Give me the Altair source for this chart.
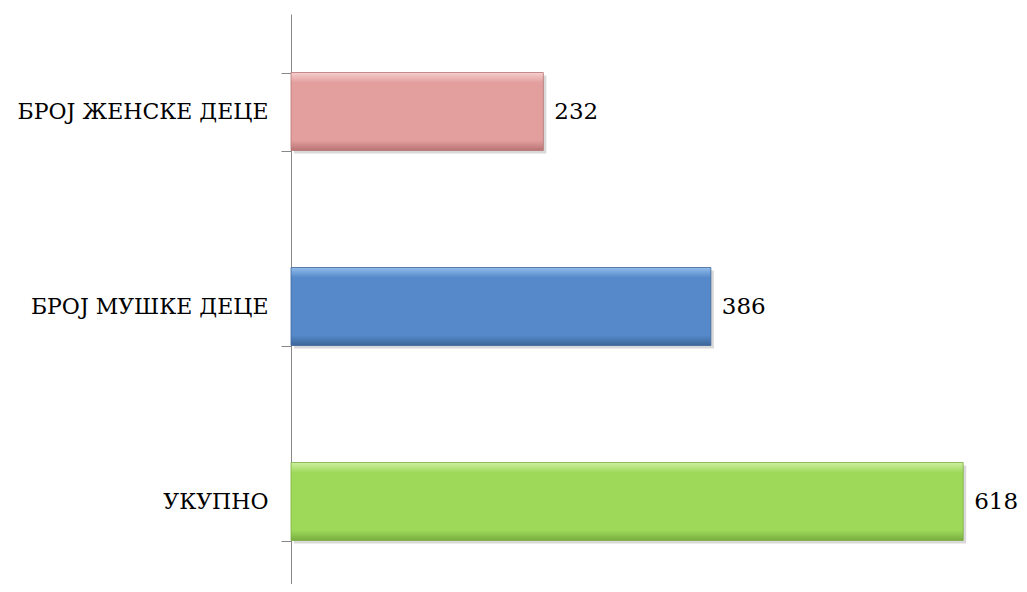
import altair as alt
import pandas as pd

categories = ["БРОЈ ЖЕНСКЕ ДЕЦЕ", "БРОЈ МУШКЕ ДЕЦЕ", "УКУПНО"]
values = [232, 386, 618]
main_colors = ["#E39E9E", "#5589C9", "#9ED95A"]
light_colors = ["#F6CFCF", "#92BDEB", "#CDEFA0"]
dark_colors = ["#B87474", "#3D6699", "#79AD40"]

df = pd.DataFrame({"cat": categories, "val": values})

FONT = "DejaVu Serif"
x_scale = alt.Scale(domain=[0, 650])
y_scale = alt.Scale(range=[0, 585], paddingInner=0.6, paddingOuter=0.3)

base = alt.Chart(df)

y_enc = alt.Y("cat:N", sort=categories, scale=y_scale,
              axis=alt.Axis(title=None, domainColor="#888888", tickColor="#888888",
                            tickSize=10, tickBand="extent", labelFont=FONT,
                            labelFontSize=22, labelColor="#000000", labelPadding=13,
                            labelLimit=400, grid=False))
x_enc = alt.X("val:Q", scale=x_scale, axis=None)

layers = []
shadow = base.mark_bar(color="#000000", opacity=0.15, xOffset=3, yOffset=3).encode(
    x=x_enc, y=y_enc)
layers.append(shadow)

for i, c in enumerate(categories):
    grad = alt.Gradient(
        gradient="linear", x1=0, x2=0, y1=0, y2=1,
        stops=[
            alt.GradientStop(offset=0, color=light_colors[i]),
            alt.GradientStop(offset=0.13, color=main_colors[i]),
            alt.GradientStop(offset=0.87, color=main_colors[i]),
            alt.GradientStop(offset=1, color=dark_colors[i]),
        ])
    layers.append(
        base.transform_filter(alt.datum.cat == c)
        .mark_bar(fill=grad, stroke=dark_colors[i], strokeWidth=0.8)
        .encode(x=x_enc, y=y_enc)
    )

text = base.mark_text(align="left", baseline="middle", dx=11, font=FONT,
                      fontSize=23, color="#000000").encode(
    x=x_enc, y=y_enc, text=alt.Text("val:Q"))
layers.append(text)

chart = alt.layer(*layers).properties(
    width=707, height=570,
    padding={"left": 283, "top": 6, "right": 21, "bottom": 0},
    autosize=alt.AutoSizeParams(type="none"),
).configure_view(stroke=None)

chart.save("out.html", embed_options={"renderer": "svg", "actions": False})
